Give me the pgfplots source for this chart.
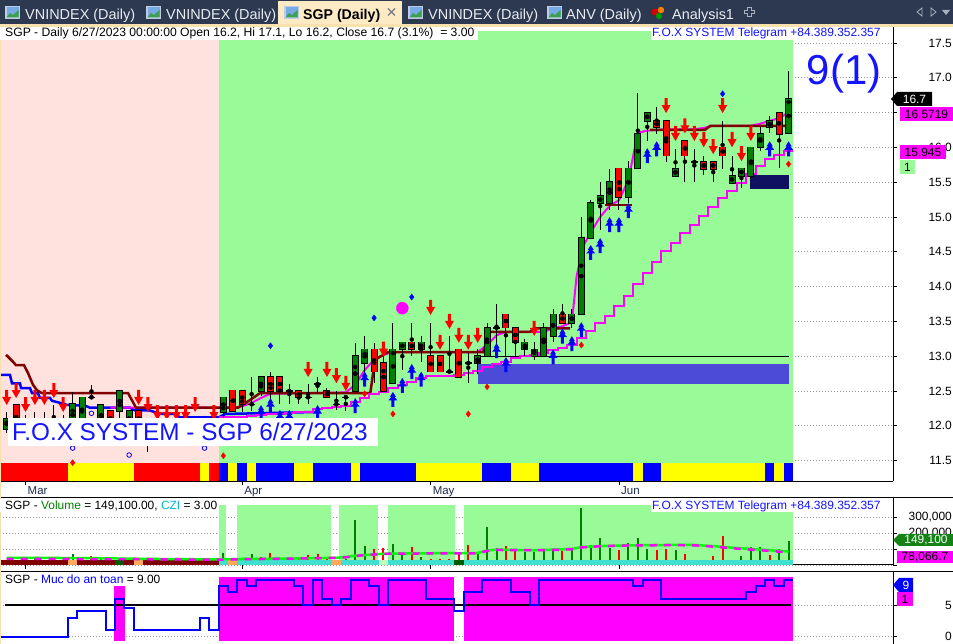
\documentclass[border=0pt]{standalone}
\usepackage{pgfplots}
\pgfplotsset{compat=1.18}
\usepackage{pgfplotstable}
\usepackage{fontspec}
\setmainfont{Liberation Sans}

\definecolor{tabbg}{RGB}{44,57,80}
\definecolor{tabtext}{RGB}{232,236,242}
\definecolor{tabactive}{RGB}{252,234,196}
\definecolor{creamline}{RGB}{250,224,172}
\definecolor{pinkbg}{RGB}{255,226,222}
\definecolor{greenbg}{RGB}{152,251,152}
\definecolor{cgreen}{RGB}{0,128,0}
\definecolor{cred}{RGB}{255,0,0}
\definecolor{maroonc}{RGB}{128,0,0}
\definecolor{mag}{RGB}{255,0,255}
\definecolor{pblue}{RGB}{0,0,255}
\definecolor{syellow}{RGB}{255,255,0}
\definecolor{slateb}{RGB}{75,75,216}
\definecolor{navyrect}{RGB}{16,16,96}
\definecolor{turq}{RGB}{64,224,208}
\definecolor{czorange}{RGB}{255,170,90}
\definecolor{czdkgreen}{RGB}{0,90,0}
\definecolor{czlight}{RGB}{190,255,190}
\definecolor{lblgreen}{RGB}{20,130,20}
\definecolor{navytext}{RGB}{30,40,80}
\definecolor{textblue}{RGB}{20,20,255}
\definecolor{gridgray}{RGB}{150,150,150}
\definecolor{cziblue}{RGB}{0,180,210}
\definecolor{iconframe}{RGB}{190,205,225}
\definecolor{iconsky}{RGB}{120,170,230}
\definecolor{icongreen}{RGB}{60,160,80}
\definecolor{tabgray}{RGB}{170,176,188}

\newcommand{\fs}[1]{\fontsize{#1}{#1}\selectfont}
\newcommand{\rect}[5]{\addplot[fill=#1, draw=none, forget plot] coordinates {(#2,#4) (#3,#4) (#3,#5) (#2,#5)};}

\pgfdeclareplotmark{dnarrow}{%
  \pgfpathmoveto{\pgfpoint{-1.5bp}{7.5bp}}%
  \pgfpathlineto{\pgfpoint{1.5bp}{7.5bp}}%
  \pgfpathlineto{\pgfpoint{1.5bp}{0.5bp}}%
  \pgfpathlineto{\pgfpoint{4.5bp}{0.5bp}}%
  \pgfpathlineto{\pgfpoint{0bp}{-7.5bp}}%
  \pgfpathlineto{\pgfpoint{-4.5bp}{0.5bp}}%
  \pgfpathlineto{\pgfpoint{-1.5bp}{0.5bp}}%
  \pgfpathclose\pgfusepathqfill}
\pgfdeclareplotmark{uparrow}{%
  \pgfpathmoveto{\pgfpoint{0bp}{7.5bp}}%
  \pgfpathlineto{\pgfpoint{3bp}{2.5bp}}%
  \pgfpathlineto{\pgfpoint{1.5bp}{2.5bp}}%
  \pgfpathlineto{\pgfpoint{4.5bp}{-1bp}}%
  \pgfpathlineto{\pgfpoint{1.5bp}{-1bp}}%
  \pgfpathlineto{\pgfpoint{1.5bp}{-7.5bp}}%
  \pgfpathlineto{\pgfpoint{-1.5bp}{-7.5bp}}%
  \pgfpathlineto{\pgfpoint{-1.5bp}{-1bp}}%
  \pgfpathlineto{\pgfpoint{-4.5bp}{-1bp}}%
  \pgfpathlineto{\pgfpoint{-1.5bp}{2.5bp}}%
  \pgfpathlineto{\pgfpoint{-3bp}{2.5bp}}%
  \pgfpathclose\pgfusepathqfill}

\pgfplotstableread{
i o h l c
0 11.95 12.2 11.9 12.1
3 12.0 12.2 11.95 12.05
5 12.0 12.3 11.95 12.1
7 12.0 12.48 11.95 12.31
8 12.05 12.41 12.0 12.41
9 12.41 12.58 12.41 12.41
10 12.0 12.3 11.95 12.3
12 12.21 12.5 12.1 12.5
13 12.0 12.21 11.95 12.21
15 12.0 12.1 11.62 12.0
17 12.0 12.1 11.95 12.05
20 11.95 12.05 11.9 12.0
23 12.2 12.41 12.1 12.41
26 12.31 12.7 12.21 12.31
27 12.5 12.7 12.43 12.7
30 12.5 12.6 12.31 12.5
32 12.41 12.6 12.31 12.41
33 12.6 12.7 12.45 12.6
35 12.31 12.5 12.22 12.31
36 12.41 12.41 12.22 12.41
37 12.5 13.19 12.5 13.0
38 12.9 13.29 12.78 13.1
41 12.61 13.48 12.61 13.1
42 13.1 13.2 12.8 13.2
44 13.1 13.29 12.91 13.2
47 12.78 13.29 12.78 12.78
49 12.9 13.05 12.62 12.9
50 12.9 13.1 12.75 13.0
51 13.0 13.48 13.0 13.41
52 13.41 13.75 13.1 13.41
55 13.1 13.25 13.0 13.2
56 13.0 13.2 12.95 13.1
57 13.0 13.48 13.0 13.41
58 13.29 13.68 13.2 13.6
60 13.48 13.68 13.4 13.6
61 13.6 15.0 13.6 14.7
62 14.7 15.25 14.7 15.2
63 15.2 15.5 14.81 15.3
64 15.2 15.69 15.1 15.5
66 15.29 15.8 15.2 15.7
67 15.7 16.78 15.7 16.19
68 16.38 16.5 16.09 16.5
71 15.59 15.98 15.59 15.69
73 15.79 15.98 15.5 15.79
77 15.49 15.88 15.49 15.59
78 15.59 15.7 15.42 15.7
79 15.59 16.0 15.55 16.0
80 16.0 16.29 15.95 16.19
81 16.29 16.45 16.2 16.38
83 16.2 17.1 16.2 16.7
}\upcandles

\pgfplotstableread{
i o h l c
1 12.3 12.3 11.9 11.95
2 12.1 12.15 11.95 12.0
4 12.1 12.2 11.95 12.0
6 12.1 12.15 11.9 11.95
11 12.21 12.21 11.95 12.0
14 12.21 12.21 11.95 12.0
16 12.1 12.15 11.95 12.0
18 12.05 12.1 11.9 11.95
19 12.0 12.05 11.9 11.95
21 12.0 12.05 11.85 11.9
22 12.1 12.15 11.95 12.0
24 12.51 12.51 12.21 12.21
25 12.5 12.5 12.2 12.31
28 12.7 12.78 12.31 12.5
29 12.7 12.7 12.31 12.5
31 12.5 12.5 12.31 12.41
34 12.5 12.55 12.41 12.41
39 13.1 13.19 12.62 12.78
40 12.9 13.07 12.5 12.5
43 13.2 13.48 13.0 13.1
45 13.0 13.48 12.78 12.78
46 13.0 13.0 12.78 12.78
48 13.1 13.1 12.7 12.7
53 13.6 13.6 13.0 13.41
54 13.41 13.41 13.0 13.2
59 13.6 13.75 13.48 13.48
65 15.7 15.7 15.1 15.29
69 16.38 16.58 16.19 16.29
70 16.38 16.38 15.79 15.88
72 16.09 16.09 15.5 15.88
74 15.79 15.88 15.6 15.69
75 15.79 15.79 15.5 15.69
76 16.0 16.38 15.69 15.88
82 16.5 16.5 15.7 16.19
}\downcandles

\pgfplotsset{
  panel/.style={
    scale only axis, width=893bp, xmin=-0.711, xmax=94.09,
    axis x line*=bottom, axis y line*=right,
    tick align=outside, major tick length=4bp,
    tick style={black, line width=0.8bp},
    axis line style={black, line width=1bp},
    ymajorgrids, grid style={gridgray, dash pattern=on 1bp off 2bp, line width=0.8bp},
    /pgf/number format/assume math mode=true,
    yticklabel style={anchor=east, inner sep=0pt, xshift=55bp, font=\fs{12}},
  },
  wick/.style={only marks, mark=none, forget plot,
    error bars/.cd, y dir=both, y explicit, error mark=none,
    error bar style={draw=black, line width=1bp}},
  bodyout/.style={only marks, mark=none, forget plot,
    error bars/.cd, y dir=both, y explicit, error mark=none,
    error bar style={draw=black, line width=7bp}},
  bodyfill/.style={only marks, mark=none, forget plot,
    error bars/.cd, y dir=both, y explicit, error mark=none,
    error bar style={draw=#1, line width=5bp}},
}

\begin{document}
\begin{tikzpicture}[x=1bp, y=1bp]
\useasboundingbox (0,0) rectangle (953,644);
\fill[white] (0,0) rectangle (953,644);

% ================= MAIN PRICE PANEL =================
\begin{axis}[panel, at={(0bp,162.5bp)}, anchor=south west, height=455.5bp,
  ymin=11.2, ymax=17.744,
  ytick={11.5,12,12.5,13,13.5,14,14.5,15,15.5,16,16.5,17,17.5},
  yticklabel style={/pgf/number format/.cd, fixed, fixed zerofill, precision=1},
  xtick={2,25,45,65}, xticklabels={Mar,Apr,May,Jun},
  xticklabel style={anchor=north west, inner sep=0pt, xshift=2bp, yshift=-1bp, font=\fs{11.5}, text=navytext},
]
% backgrounds
\rect{pinkbg}{-0.8}{22.5}{11.4}{17.67}
\rect{greenbg}{22.5}{83.5}{11.4}{17.67}
% colour strip
\rect{cred}{-0.8}{6.5}{11.2}{11.466}
\rect{syellow}{6.5}{13.5}{11.2}{11.466}
\rect{cred}{13.5}{20.5}{11.2}{11.466}
\rect{syellow}{20.5}{21.5}{11.2}{11.466}
\rect{cred}{21.5}{22.5}{11.2}{11.466}
\rect{pblue}{22.5}{23.5}{11.2}{11.466}
\rect{syellow}{23.5}{24.5}{11.2}{11.466}
\rect{pblue}{24.5}{25.5}{11.2}{11.466}
\rect{syellow}{25.5}{26.5}{11.2}{11.466}
\rect{pblue}{26.5}{30.5}{11.2}{11.466}
\rect{syellow}{30.5}{32.5}{11.2}{11.466}
\rect{pblue}{32.5}{36.5}{11.2}{11.466}
\rect{syellow}{36.5}{37.5}{11.2}{11.466}
\rect{pblue}{37.5}{43.5}{11.2}{11.466}
\rect{syellow}{43.5}{50.5}{11.2}{11.466}
\rect{pblue}{50.5}{53.5}{11.2}{11.466}
\rect{syellow}{53.5}{56.5}{11.2}{11.466}
\rect{pblue}{56.5}{66.5}{11.2}{11.466}
\rect{syellow}{66.5}{67.5}{11.2}{11.466}
\rect{pblue}{67.5}{69.5}{11.2}{11.466}
\rect{syellow}{69.5}{80.5}{11.2}{11.466}
\rect{pblue}{80.5}{81.5}{11.2}{11.466}
\rect{syellow}{81.5}{82.5}{11.2}{11.466}
\rect{pblue}{82.5}{83.5}{11.2}{11.466}
% zones
\rect{slateb}{50}{83}{12.6}{12.888}
\addplot[black, line width=1bp, forget plot] coordinates {(50,13.0) (83,13.0)};
\rect{navyrect}{78.9}{83}{15.4}{15.6}
% blue line (left)
\addplot[pblue, line width=2.5bp, forget plot] coordinates {
(-0.71,12.73) (0.35,12.73) (0.56,12.61) (1.41,12.61) (1.52,12.54) (2.47,12.54) (2.69,12.47) (3.32,12.47) (3.53,12.4) (4.6,12.4) (4.8,12.36) (5.66,12.33) (6.4,12.3) (8.31,12.29) (8.84,12.26) (13.1,12.26) (13.62,12.22) (15.2,12.22) (16.3,12.17) (17.9,12.17) (18.4,12.12) (22.5,12.12) (23.2,12.17) (33.3,12.2)};
% upper magenta
\addplot[mag, line width=2bp, forget plot] coordinates {
(11,12.26) (24,12.26) (25,12.28) (26,12.33) (27,12.4) (28,12.46) (36,12.48) (37,12.59) (38,12.8) (39,12.95) (40,13.02) (41,13.06) (50,13.06) (51,13.16) (52,13.3) (53,13.35) (57,13.35) (58,13.4) (59,13.43) (60,13.49) (60.5,14.15) (61.2,14.58) (62,14.78) (63,15.0) (64,15.16) (65,15.24) (66,15.53) (67,16.21) (68,16.24) (69,16.25) (70,16.26) (73,16.26) (74,16.28) (75,16.31) (79,16.31) (80,16.34) (81,16.38) (82,16.42) (83,16.5)};
% maroon line
\addplot[maroonc, line width=2.5bp, forget plot] coordinates {
(-0.07,13.02) (0.67,12.92) (0.99,12.87) (1.84,12.87) (2.26,12.76) (2.79,12.59) (3.22,12.51) (3.75,12.47) (12.88,12.47) (13.73,12.26) (24.55,12.26) (25.83,12.37) (26.89,12.47) (38.6,12.47) (39.1,12.95) (40.48,13.06) (50.57,13.06) (51.31,13.35) (55.55,13.35) (56.08,13.4) (59.8,13.4)};
\addplot[maroonc, line width=2.5bp, forget plot] coordinates {(63.5,15.17) (66.4,15.17)};
\addplot[maroonc, line width=2.5bp, forget plot] coordinates {(68.3,16.25) (74.1,16.25) (74.7,16.31) (83,16.31)};
% lower magenta staircase
\addplot[mag, line width=2bp, const plot mark mid, forget plot] coordinates {
(22.5,12.13) (23,12.13) (24,12.13) (25,12.13) (26,12.14) (27,12.16) (28,12.17) (29,12.17) (30,12.18) (31,12.2) (32,12.2) (33,12.24) (34,12.26) (35,12.27) (36,12.28) (37,12.34) (38,12.4) (39,12.46) (40,12.48) (41,12.54) (42,12.59) (43,12.63) (44,12.69) (45,12.72) (46,12.72) (47,12.72) (48,12.73) (49,12.76) (50,12.79) (51,12.84) (52,12.89) (53,12.92) (54,12.97) (55,13.0) (56,13.02) (57,13.05) (58,13.09) (59,13.12) (60,13.16) (61,13.26) (62,13.36) (63,13.48) (64,13.58) (65,13.72) (66,13.86) (67,14.04) (68,14.2) (69,14.35) (70,14.51) (71,14.63) (72,14.77) (73,14.89) (74,15.01) (75,15.14) (76,15.27) (77,15.37) (78,15.49) (79,15.62) (80,15.73) (81,15.83) (82,15.89) (83,15.945) (83.5,15.945)};
% candles
\addplot[wick] table[x=i, y expr={(\thisrow{h}+\thisrow{l})/2}, y error expr={(\thisrow{h}-\thisrow{l})/2}] {\upcandles};
\addplot[wick] table[x=i, y expr={(\thisrow{h}+\thisrow{l})/2}, y error expr={(\thisrow{h}-\thisrow{l})/2}] {\downcandles};
\addplot[bodyout] table[x=i, y expr={(\thisrow{o}+\thisrow{c})/2}, y error expr={abs(\thisrow{c}-\thisrow{o})/2+0.0105}] {\upcandles};
\addplot[bodyout] table[x=i, y expr={(\thisrow{o}+\thisrow{c})/2}, y error expr={abs(\thisrow{c}-\thisrow{o})/2+0.0105}] {\downcandles};
\addplot[bodyfill=cgreen] table[x=i, y expr={(\thisrow{o}+\thisrow{c})/2}, y error expr={abs(\thisrow{c}-\thisrow{o})/2}] {\upcandles};
\addplot[bodyfill=cred] table[x=i, y expr={(\thisrow{o}+\thisrow{c})/2}, y error expr={abs(\thisrow{c}-\thisrow{o})/2}] {\downcandles};
% signals
\addplot[only marks, mark=dnarrow, cred, forget plot] coordinates {
(0,12.407) (1,12.507) (2,12.306) (3,12.407) (4,12.407) (5,12.507) (6,12.306) (14,12.407) (15,12.306) (16,12.19) (17,12.19) (18,12.19) (19,12.19) (20,12.306) (22,12.19) (32,12.81) (34,12.81) (35,12.72) (36,12.61) (40,13.1) (45,13.7) (46,13.2) (47,13.5) (48,13.3) (49,13.2) (50,13.3) (56,13.4) (70,16.6) (71,16.2) (72,16.31) (73,16.2) (74,16.11) (75,16.01) (76,16.6) (77,16.11) (78,15.91) (79,16.2)};
\addplot[only marks, mark=uparrow, pblue, forget plot] coordinates {
(27,12.19) (28,12.29) (29,12.12) (30,12.12) (33,12.19) (37,12.29) (38,12.67) (41,12.38) (42,12.58) (43,12.78) (44,12.67) (52,13.08) (53,12.88) (58,12.99) (59,13.29) (60,13.18) (61,13.38) (62,14.49) (63,14.59) (64,14.89) (65,14.89) (66,15.09) (68,15.88) (69,15.98) (81,15.98) (83,15.98)};
\addplot[only marks, mark=diamond*, mark size=3bp, pblue, forget plot] coordinates {(28,13.15) (39,13.55) (43,13.85) (76,16.77)};
\addplot[only marks, mark=diamond*, mark size=3bp, cred, forget plot] coordinates {(7,11.47) (23,11.57) (38,12.46) (41,12.17) (49,12.17) (51,12.56) (61,13.16) (83,15.76)};
\addplot[only marks, mark=o, mark size=2.3bp, line width=0.8bp, pblue, forget plot] coordinates {(7,11.68) (9,12.18) (11,11.75) (13,11.58) (21,11.68)};
\addplot[only marks, mark=*, mark size=6bp, mag, forget plot] coordinates {(42,13.69)};
\end{axis}

% ================= VOLUME PANEL =================
\begin{axis}[panel, at={(0bp,79bp)}, anchor=south west, height=67bp,
  ymin=0, ymax=418.75,
  ytick={0,100,200,300}, yticklabels={,,{200,000},{300,000}},
  xtick={2,25,45,65}, xticklabels={},
]
\rect{greenbg}{22.5}{23.3}{0}{375}
\rect{greenbg}{24.4}{34.4}{0}{375}
\rect{greenbg}{35.3}{39.4}{0}{375}
\rect{greenbg}{40.5}{47.6}{0}{375}
\rect{greenbg}{48.5}{83.5}{0}{375}
\addplot[ycomb, draw=cgreen, line width=2bp, forget plot] coordinates {
(0,25) (3,35) (5,40) (7,67) (8,30) (10,35) (12,30) (13,25) (15,30) (17,35) (20,20) (23,73) (26,67) (27,52) (36,35) (37,281) (38,121) (41,133) (42,73) (44,52) (50,73) (51,240) (52,104) (55,83) (56,79) (57,88) (58,94) (60,100) (61,358) (62,125) (63,167) (64,104) (66,135) (67,171) (68,100) (71,94) (77,21) (78,56) (79,115) (80,115) (82,100) (83,149.1)};
\addplot[ycomb, draw=cred, line width=2bp, forget plot] coordinates {
(1,30) (2,20) (4,30) (6,25) (9,56) (11,40) (14,20) (16,25) (18,30) (19,25) (21,30) (22,35) (24,31) (25,31) (28,73) (29,42) (30,42) (31,52) (32,63) (33,67) (34,52) (35,31) (39,100) (40,104) (43,115) (45,38) (46,38) (47,38) (48,67) (49,125) (53,121) (54,100) (59,88) (65,94) (69,94) (70,100) (72,67) (73,31) (74,31) (75,56) (76,183) (81,63)};
% CZI strip
\rect{maroonc}{-0.8}{22.5}{0}{31}
\rect{czorange}{6.5}{7.5}{0}{31}
\rect{czdkgreen}{11.5}{12.5}{0}{31}
\rect{czorange}{13.5}{14.5}{0}{31}
\rect{turq}{22.5}{83.5}{0}{31}
\rect{czorange}{23.5}{24.5}{0}{31}
\rect{czorange}{34.5}{35.5}{0}{31}
\rect{czlight}{39.5}{40.5}{0}{31}
\rect{czdkgreen}{47.5}{48.5}{0}{31}
% moving averages
\addplot[color={rgb,255:red,0;green,255;blue,0}, line width=2.5bp, forget plot] coordinates {
(0,45) (5,44) (10,42) (15,38) (22,35) (24,37) (30,40) (35,45) (36,50) (37,58) (38,62) (40,70) (44,73) (50,75) (51,90) (52,96) (56,92) (58,96) (60,100) (61,112) (63,118) (66,123) (70,125) (73,125) (75,118) (77,108) (79,100) (81,92) (83,84)};
\addplot[mag, line width=2.5bp, dash pattern=on 7bp off 7bp, forget plot] coordinates {
(0,38) (5,38) (10,37) (15,36) (22,33) (24,35) (30,40) (35,45) (36,48) (37,56) (38,62) (40,70) (44,72) (50,73) (51,88) (52,94) (56,92) (58,94) (60,98) (61,110) (63,117) (66,122) (70,124) (73,123) (75,115) (77,105) (79,96) (81,88) (83,78.07)};
\end{axis}

% ================= SAFETY PANEL =================
\begin{axis}[panel, at={(0bp,0bp)}, anchor=south west, height=72bp,
  ymin=-1.19, ymax=10.24, ytick={0,5}, axis x line=none,
]
\rect{mag}{11.4}{12.6}{-0.7}{8}
\rect{mag}{22.5}{47.5}{-0.7}{9.4}
\rect{mag}{48.5}{83.5}{-0.7}{9.4}
\addplot[black, line width=2bp, forget plot] coordinates {(-0.2,5) (83.3,5)};
\addplot[pblue, line width=2bp, const plot, forget plot] coordinates {
(-0.71,0) (6.5,3) (7.5,4) (10.5,1) (11.5,6) (12.5,4.6) (13.5,1) (20.5,3) (21.5,1) (22.5,8) (23.5,7) (24.5,9) (25.5,8) (26.5,9) (30.5,8) (31.5,5) (32.5,9) (33.5,6) (34.5,5) (35.5,6) (36.5,9) (38.5,8) (39.5,5) (40.5,9) (44.5,6) (47.5,4) (48.5,7) (50.5,9) (53.5,7) (55.5,5) (56.5,9) (66.5,8) (67.5,9) (69.5,6) (78.5,7) (79.5,8) (80.5,9) (81.5,8) (82.5,9) (83.5,9)};
\end{axis}

% ================= panel separators =================
\draw[black, line width=1bp] (0,146) -- (953,146);
\draw[black, line width=1bp] (0,72) -- (953,72);
\fill[creamline] (0,0) rectangle (1.2,617);

% ================= header texts =================
\fill[white] (0,618) rectangle (478,604);
\node[anchor=base west, inner sep=0pt, font=\fs{12.2}] at (5,607) {SGP - Daily 6/27/2023 00:00:00 Open 16.2, Hi 17.1, Lo 16.2, Close 16.7 (3.1\%)\ \ = 3.00};
\fill[white] (651,618) rectangle (882,604);
\node[anchor=base west, inner sep=0pt, font=\fs{12}, text=textblue] at (652,607) {F.O.X SYSTEM Telegram +84.389.352.357};
\fill[white] (0,145) rectangle (218,132);
\node[anchor=base west, inner sep=0pt, font=\fs{12}] at (5,134) {SGP - \textcolor{cgreen}{Volume} = 149,100.00, \textcolor{cziblue}{CZI} = 3.00};
\fill[white] (651,145) rectangle (882,132);
\node[anchor=base west, inner sep=0pt, font=\fs{12}, text=textblue] at (652,134) {F.O.X SYSTEM Telegram +84.389.352.357};
\node[anchor=base west, inner sep=0pt, font=\fs{12}] at (5,60) {SGP - \textcolor{pblue}{Muc do an toan} = 9.00};

\fill[white] (8,226) rectangle (378,198);
\node[anchor=base west, inner sep=0pt, font=\fs{24.4}, text=textblue] at (12,203) {F.O.X SYSTEM - SGP 6/27/2023};
\node[anchor=base, inner sep=0pt, font=\fs{42}, text=textblue] at (844,559) {9(1)};

% ================= value labels =================
\fill[black] (891,545) -- (897,552) -- (932,552) -- (932,538) -- (897,538) -- cycle;
\node[font=\fs{12}, text=white, inner sep=0pt] at (914.5,545) {16.7};
\fill[mag] (900,537) rectangle (953,523);
\node[font=\fs{12}, inner sep=0pt] at (926.5,530) {16.5719};
\fill[mag] (900,499) rectangle (946,485);
\node[font=\fs{12}, inner sep=0pt] at (923,492) {15.945};
\fill[greenbg] (900,484) rectangle (915,470);
\node[font=\fs{12}, inner sep=0pt] at (907.5,477) {1};
\fill[lblgreen] (893,104) -- (899,110) -- (953,110) -- (953,98) -- (899,98) -- cycle;
\node[font=\fs{12}, text=white, inner sep=0pt] at (926,104) {149,100};
\fill[mag] (897,93) rectangle (953,81);
\node[font=\fs{12}, inner sep=0pt] at (925,87) {78,066.7};
\fill[pblue] (893,59) -- (899,66) -- (913,66) -- (913,52) -- (899,52) -- cycle;
\node[font=\fs{12}, text=white, inner sep=0pt] at (906,59) {9};
\fill[mag] (897,52) rectangle (913,38);
\node[font=\fs{12}, inner sep=0pt] at (905,45) {1};

% ================= tab bar =================
\fill[tabbg] (0,619) rectangle (953,644);
\fill[tabactive] (278,619) rectangle (402,642.5);
\fill[creamline] (0,617) rectangle (953,619.5);
\foreach \ix in {5,146,284,408,547}{
  \fill[iconframe] (\ix,625) rectangle ++(15,13);
  \fill[iconsky] (\ix+1.5,626.5) rectangle ++(12,10);
  \fill[icongreen] (\ix+1.5,626.5) -- (\ix+5,631) -- (\ix+8,629) -- (\ix+13.5,634) -- (\ix+13.5,626.5) -- cycle;
}
\node[anchor=base west, inner sep=0pt, font=\fs{14.5}, text=tabtext] at (25,624.7) {VNINDEX (Daily)};
\node[anchor=base west, inner sep=0pt, font=\fs{14.5}, text=tabtext] at (166,624.7) {VNINDEX (Daily)};
\node[anchor=base west, inner sep=0pt, font=\bfseries\fs{14.2}, text=black] at (303,624.7) {SGP (Daily)};
\draw[tabgray!70!black, line width=1.2bp] (388,628.5) -- (395,635.5) (388,635.5) -- (395,628.5);
\node[anchor=base west, inner sep=0pt, font=\fs{14.5}, text=tabtext] at (428,624.7) {VNINDEX (Daily)};
\node[anchor=base west, inner sep=0pt, font=\fs{14.5}, text=tabtext] at (566,624.7) {ANV (Daily)};
\fill[red!85!black] (655,632) circle (3.5);
\fill[orange] (661,634) circle (3.2);
\fill[green!60!black] (659,628) circle (3.2);
\node[anchor=base west, inner sep=0pt, font=\fs{14.5}, text=tabtext] at (672,624.7) {Analysis1};
\draw[tabgray, line width=0.8bp] (747,628) -- (751,628) -- (751,631) -- (754,631) -- (754,634) -- (751,634) -- (751,637) -- (747,637) -- (747,634) -- (744,634) -- (744,631) -- (747,631) -- cycle;
\draw[tabgray, line width=0.8bp] (922,628) -- (917,632) -- (922,636) -- cycle;
\draw[tabgray, line width=0.8bp] (931,628) -- (936,632) -- (931,636) -- cycle;
\fill[tabgray] (942,634) -- (950,634) -- (946,629) -- cycle;
\end{tikzpicture}
\end{document}
